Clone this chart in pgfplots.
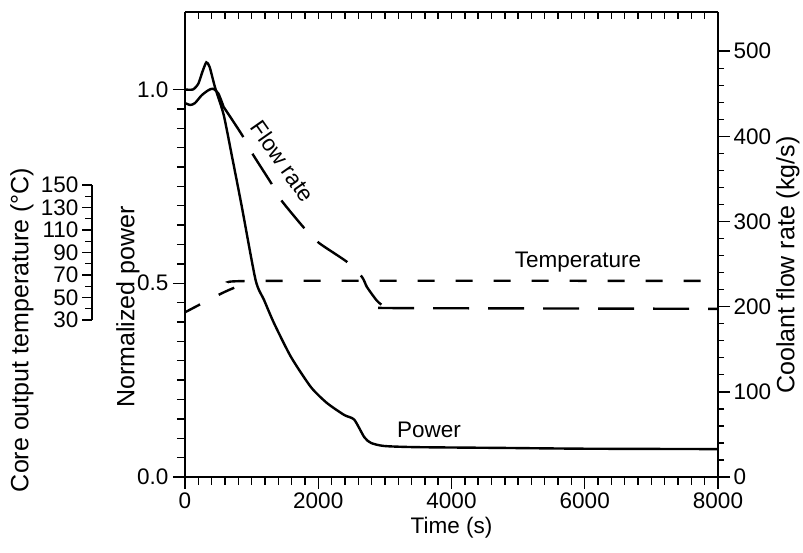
\documentclass[border=0pt]{standalone}
\usepackage{fontspec}
\setmainfont{Liberation Sans}
\usepackage{pgfplots}
\pgfplotsset{compat=1.18}

\newcommand{\tickfont}{\fontsize{22.5}{24}\selectfont}
\newcommand{\labfont}{\fontsize{25}{27}\selectfont}

\pgfplotsset{
  base/.style={
    scale only axis, width=533pt, height=465pt,
    at={(0pt,0pt)}, anchor=south west,
    xmin=0, xmax=8000,
    axis line style={line width=1.8pt},
    tick style={line width=1.4pt, black},
    major tick length=12pt, minor tick length=8pt,
    tick align=outside,
    ticklabel style={font=\tickfont},
    /pgf/number format/assume math mode=true,
    scaled ticks=false,
    clip=false,
  },
  curve/.style={line width=2.4pt, black, no markers, smooth, tension=0.4},
}

\begin{document}
\begin{tikzpicture}[x=1pt, y=1pt]
\useasboundingbox (-185,-76) rectangle (618,477);

% top edge, ticks pointing in
\begin{axis}[base, ymin=0, ymax=1,
  axis y line=none, axis x line*=top, tick align=inside,
  major tick length=7pt, minor tick length=7pt,
  xtick={0,2000,4000,6000,8000}, xticklabels={}, minor x tick num=9]
\end{axis}

% right axis: coolant flow rate
\begin{axis}[base, ymin=0, ymax=546,
  axis x line=none, axis y line*=right,
  ytick={0,100,200,300,400,500}, minor y tick num=4,
  minor tick length=6pt, yticklabel style={xshift=0pt}]
\end{axis}

% main axis: normalized power vs time
\begin{axis}[base, ymin=0, ymax=1.2,
  axis x line*=bottom, axis y line*=left,
  xtick={0,2000,4000,6000,8000}, xticklabels={0,2000,4000,6000,8000},
  minor x tick num=9,
  ytick={0,0.5,1}, yticklabels={0.0,0.5,1.0}, minor y tick num=9,
  yticklabel style={xshift=-1pt},
  xlabel={Time (s)}, xlabel style={font=\tickfont, yshift=-2pt}]

% power
\addplot[curve] coordinates {
  (0,1.000) (120,1.000) (200,1.015) (260,1.045) (320,1.070) (370,1.058)
  (450,1.006) (580,0.935) (700,0.832) (850,0.700) (1060,0.508)
  (1186,0.457) (1336,0.397) (1590,0.310) (1890,0.232) (2130,0.191)
  (2390,0.160) (2540,0.148) (2690,0.103) (2790,0.088) (2990,0.080)
  (3480,0.077) (4790,0.075) (6000,0.073) (8000,0.072)};

% flow rate, solid start
\addplot[curve] coordinates {
  (0,0.965) (80,0.960) (150,0.965) (250,0.985) (350,0.998) (420,1.002)
  (500,0.990) (580,0.955)};
% flow rate, long dashes
\addplot[curve, dash pattern=on 36pt off 19pt] coordinates {
  (580,0.955) (855,0.883) (1006,0.836) (1291,0.759) (1441,0.715)
  (1786,0.643) (2011,0.604) (2432,0.555) (2657,0.516) (2732,0.490)
  (2880,0.455) (2990,0.440) (3100,0.436) (8000,0.434)};

% core outlet temperature, short dashes
\addplot[curve, dash pattern=on 17pt off 21pt] coordinates {
  (0,0.425) (300,0.452) (600,0.478) (850,0.496) (1050,0.506) (8000,0.506)};

\node[font=\tickfont, rotate=-55] at (axis cs:1470,0.815) {Flow rate};
\node[font=\tickfont] at (axis cs:5900,0.555) {Temperature};
\node[font=\tickfont] at (axis cs:3662,0.121) {Power};
\end{axis}

% small core outlet temperature scale
\begin{axis}[scale only axis, width=1pt, height=135pt,
  at={(-93pt,157pt)}, anchor=south west,
  xmin=0, xmax=1, ymin=30, ymax=150,
  axis x line=none, axis y line*=left,
  axis line style={line width=1.6pt},
  tick style={line width=1.3pt, black},
  major tick length=10pt, minor tick length=7pt, tick align=outside,
  ytick={30,50,70,90,110,130,150}, minor y tick num=1,
  ticklabel style={font=\tickfont},
  /pgf/number format/assume math mode=true]
\end{axis}

\node[font=\labfont, rotate=90] at (-163,147) {Core output temperature (°C)};
\node[font=\labfont, rotate=90] at (-57,170) {Normalized power};
\node[font=\labfont, rotate=90] at (603,212) {Coolant flow rate (kg/s)};
\end{tikzpicture}
\end{document}
